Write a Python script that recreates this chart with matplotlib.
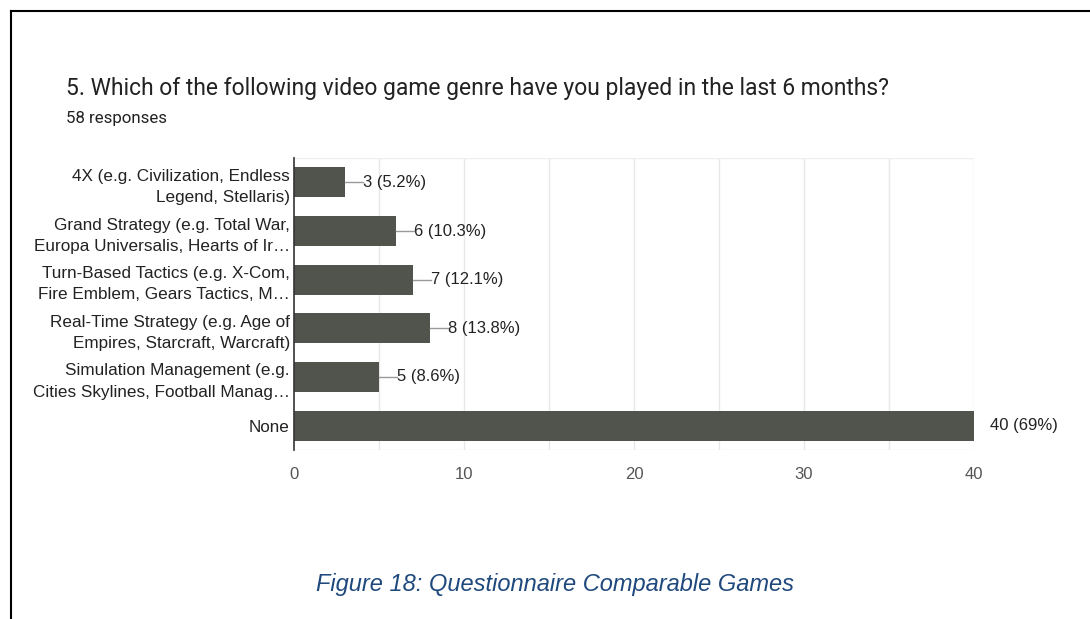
import matplotlib
matplotlib.use("Agg")
import matplotlib.pyplot as plt
from matplotlib.lines import Line2D

# -------------------------------------------------
# Data
# -------------------------------------------------
categories = [
    "4X (e.g. Civilization, Endless\nLegend, Stellaris)",
    "Grand Strategy (e.g. Total War,\nEuropa Universalis, Hearts of Ir…",
    "Turn-Based Tactics (e.g. X-Com,\nFire Emblem, Gears Tactics, M…",
    "Real-Time Strategy (e.g. Age of\nEmpires, Starcraft, Warcraft)",
    "Simulation Management (e.g.\nCities Skylines, Football Manag…",
    "None",
]
counts = [3, 6, 7, 8, 5, 40]
percents = ["5.2%", "10.3%", "12.1%", "13.8%", "8.6%", "69%"]
xticks = [0, 10, 20, 30, 40]

title = "5. Which of the following video game genre have you played in the last 6 months?"
subtitle = "58 responses"
caption = "Figure 18: Questionnaire Comparable Games"

bar_color = "#50544c"
text_color = "#222222"
tick_color = "#555555"
arial = ["Liberation Sans", "DejaVu Sans"]

plt.rcParams["font.family"] = ["Roboto", "DejaVu Sans"]

W, H = 1090, 619
fig = plt.figure(figsize=(W / 100, H / 100), dpi=100)

# axes in pixel coordinates
x0, x1 = 294, 974
y_top, y_bot = 158, 450
ax = fig.add_axes([x0 / W, 1 - y_bot / H, (x1 - x0) / W, (y_bot - y_top) / H])

ypos = list(range(len(categories)))
ax.barh(ypos, counts, height=0.62, color=bar_color, zorder=3)
ax.set_ylim(len(categories) - 0.5, -0.5)
ax.set_xlim(0, 40)

# grid
for v in range(5, 41, 5):
    ax.axvline(v, color="#e8e8e8", lw=1, zorder=1)
ax.axhline(-0.5, color="#eeeeee", lw=1, zorder=1)
ax.axhline(len(categories) - 0.5, color="#eeeeee", lw=1, zorder=1)

for s in ["top", "right", "bottom"]:
    ax.spines[s].set_visible(False)
ax.spines["left"].set_color("#333333")
ax.spines["left"].set_linewidth(1.2)
ax.spines["left"].set_zorder(4)

ax.set_yticks(ypos)
ax.set_yticklabels(categories, fontsize=12.3, color=text_color, linespacing=1.5,
                   family=arial)
ax.tick_params(axis="y", length=0, pad=3)
ax.set_xticks(xticks)
ax.set_xticklabels([str(t) for t in xticks], fontsize=12, color=tick_color,
                   family=arial)
ax.tick_params(axis="x", length=0, pad=12)

# value labels with leader lines
for i, (c, p) in enumerate(zip(counts, percents)):
    if c < 40:
        ax.plot([c, c + 1.05], [i, i], color="#999999", lw=1, zorder=4, clip_on=False)
        ax.text(c + 1.05, i, f"{c} ({p})", va="center", ha="left",
                fontsize=12, color=text_color, family=arial)
    else:
        ax.text(c + 0.95, i, f"{c} ({p})", va="center", ha="left",
                fontsize=12, color=text_color, family=arial)

fig.text(66 / W, 1 - 88 / H, title, fontsize=16.5, color=text_color, va="center")
fig.text(66 / W, 1 - 118 / H, subtitle, fontsize=12.2, color=text_color, va="center")
fig.text(555 / W, 1 - 585 / H, caption, fontsize=17, color="#1f497d",
         style="italic", ha="center", va="center", family=arial)

# outer frame lines
fig.add_artist(Line2D([11 / W, 1.0], [1 - 11 / H, 1 - 11 / H], color="black", lw=1.5))
fig.add_artist(Line2D([11 / W, 11 / W], [1 - 11 / H, 0], color="black", lw=1.5))

fig.savefig("out.png", dpi=100)
